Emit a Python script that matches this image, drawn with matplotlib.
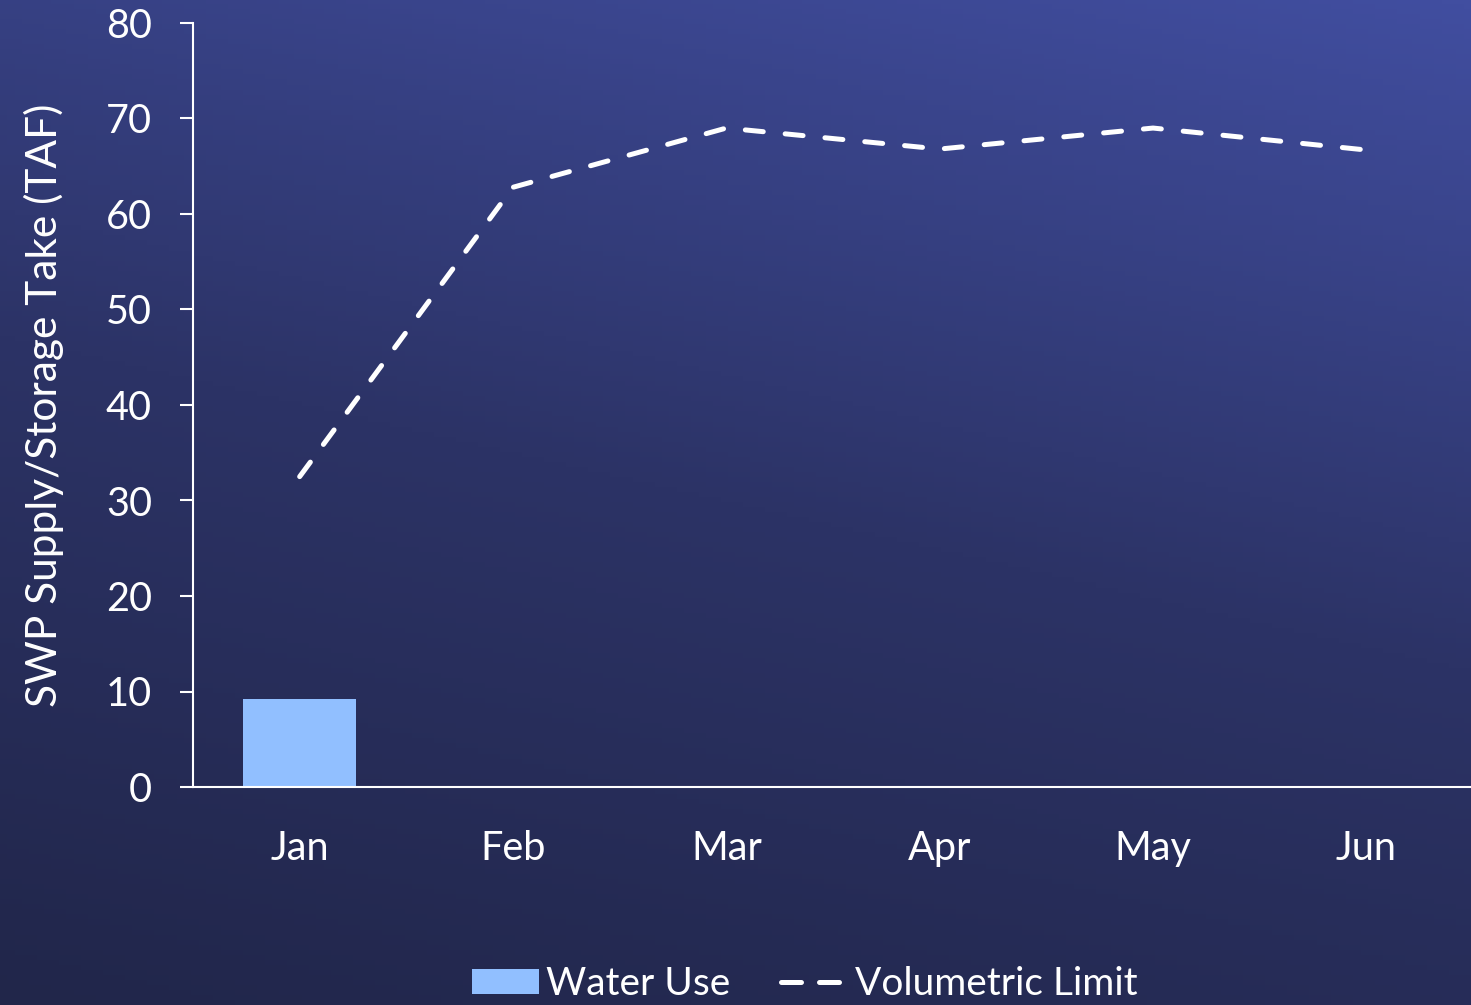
import numpy as np
import matplotlib
matplotlib.use('Agg')
import matplotlib.pyplot as plt
from matplotlib.colors import LinearSegmentedColormap
from matplotlib.patches import Patch
from matplotlib.lines import Line2D

months = ['Jan', 'Feb', 'Mar', 'Apr', 'May', 'Jun']
water_use = [9.2]
volumetric_limit = [32.5, 62.8, 69.0, 66.8, 69.0, 66.7]

plt.rcParams['font.family'] = ['Lato', 'DejaVu Sans']

fig = plt.figure(figsize=(14.71, 10.05), dpi=100)

# gradient background, lighter to the upper right
bg = fig.add_axes([0, 0, 1, 1], zorder=-10)
bg.axis('off')
yy, xx = np.mgrid[0:1:200j, 0:1:200j]
grad = 0.75 * yy + 0.25 * xx
cmap = LinearSegmentedColormap.from_list('bg', ['#21264a', '#2c3366', '#414ea0'])
bg.imshow(grad, cmap=cmap, origin='lower', extent=[0, 1, 0, 1], aspect='auto')

ax = fig.add_axes([193 / 1471, 218 / 1005, 1280 / 1471, 764 / 1005])
ax.patch.set_alpha(0)

x = np.arange(len(months))
ax.bar(x[:len(water_use)], water_use, width=0.53, color='#91bfff', zorder=2)
ax.plot(x, volumetric_limit, color='white', lw=3.6, dashes=(3.6, 4.4),
        dash_capstyle='round', zorder=3)

ax.set_xlim(-0.5, 5.5)
ax.set_ylim(0, 80)
ax.set_yticks(range(0, 81, 10))
ax.set_xticks(x)
ax.set_xticklabels(months)

for s in ['top', 'right']:
    ax.spines[s].set_visible(False)
for s in ['left', 'bottom']:
    ax.spines[s].set_color('white')
    ax.spines[s].set_linewidth(1.5)
    ax.spines[s].set_clip_on(False)

ax.tick_params(axis='y', colors='white', labelsize=28.5, length=9.5, width=1.5, pad=20)
ax.tick_params(axis='x', colors='white', labelsize=28.5, length=0, pad=31)
ax.set_ylabel('SWP Supply/Storage Take (TAF)', color='white', fontsize=30.5, labelpad=30)

handles = [Patch(facecolor='#91bfff', label='Water Use'),
           Line2D([0], [0], color='white', lw=3.6, dashes=(4, 3.6),
                  dash_capstyle='round', label='Volumetric Limit')]
fig.legend(handles=handles, loc='center', bbox_to_anchor=(805 / 1471, 21 / 1005),
           ncol=2, frameon=False, fontsize=28, labelcolor='white',
           handlelength=1.7, handleheight=0.62, columnspacing=1.3, handletextpad=0.2)

fig.savefig('out.png', dpi=100)
